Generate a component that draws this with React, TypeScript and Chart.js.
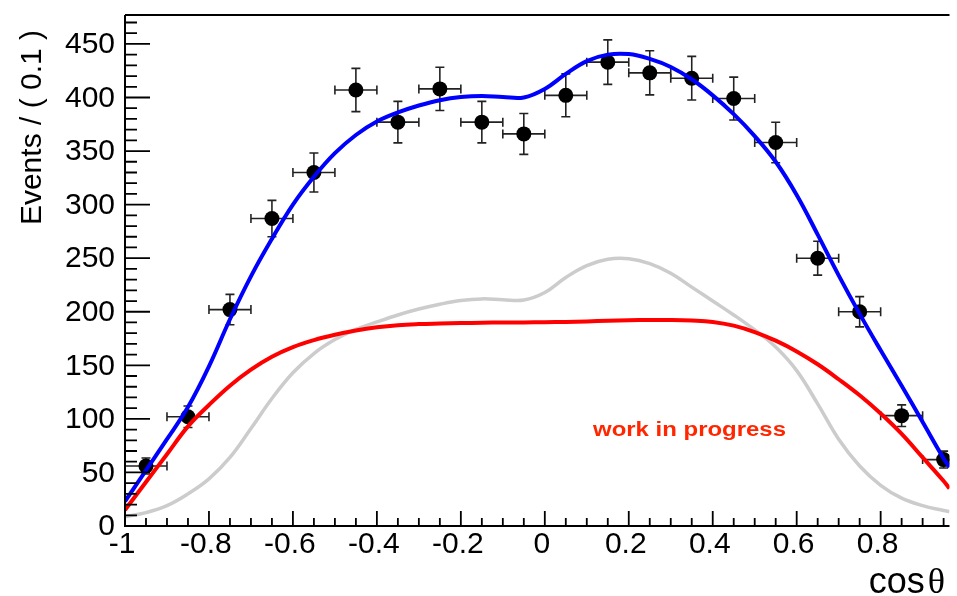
import React, { useEffect, useRef } from "react";
import { Chart, registerables } from "chart.js";

Chart.register(...registerables);

// ---- data ----
const binCenters = [-0.95, -0.85, -0.75, -0.65, -0.55, -0.45, -0.35, -0.25, -0.15, -0.05, 0.05, 0.15, 0.25, 0.35, 0.45, 0.55, 0.65, 0.75, 0.85, 0.95];
const counts = [56, 102, 202, 287, 330, 407, 377, 408, 377, 366, 402, 433, 423, 418, 399, 358, 250, 200, 103, 62];
const countErrors = [7.5, 10, 14.2, 17, 18.2, 20.2, 19.4, 20.2, 19.4, 19.1, 20, 20.8, 20.6, 20.4, 20, 18.9, 15.8, 14.1, 10.1, 7.9];
const binHalfWidth = 0.05;

const curveX = [-1, -0.95, -0.9, -0.85, -0.8, -0.75, -0.7, -0.65, -0.6, -0.55, -0.5, -0.45, -0.4, -0.35, -0.3, -0.25, -0.2, -0.15, -0.1, -0.05, 0, 0.05, 0.1, 0.15, 0.2, 0.25, 0.3, 0.35, 0.4, 0.45, 0.5, 0.55, 0.6, 0.65, 0.7, 0.75, 0.8, 0.85, 0.9, 0.95, 0.964];
const totalFit = [23, 52, 81, 111, 149, 193, 233, 268, 300, 326, 348, 365, 377.5, 386, 392.5, 397.5, 400.5, 401.5, 400.5, 400, 408, 422, 434, 440, 440.5, 436, 428.5, 417, 402, 384.5, 364, 340, 309, 272, 234, 198, 164, 131, 97, 63, 55];
const redComponent = [15, 41, 67, 93, 113, 131, 146, 158, 167, 173.5, 178.5, 182.5, 185.5, 187.5, 188.5, 189, 189.4, 189.7, 190, 190, 190.2, 190.5, 191, 191.5, 192, 192.3, 192.3, 191.8, 190.5, 187, 181, 173, 163, 151, 137, 122, 105, 86, 64, 42, 35];
const grayComponent = [8.7, 12.5, 19, 30, 44, 64, 91, 119, 143, 161, 174, 183.5, 190.5, 197, 202.5, 207, 210.5, 212, 211.3, 211, 218, 232, 243, 249, 249.5, 245, 236, 223, 210, 197, 183, 167, 145, 114, 81, 56, 38, 26, 19, 14.5, 13.4];

const xTickValues = [-1, -0.8, -0.6, -0.4, -0.2, 0, 0.2, 0.4, 0.6, 0.8];
const xTickLabels = ["-1", "-0.8", "-0.6", "-0.4", "-0.2", "0", "0.2", "0.4", "0.6", "0.8"];
const yTickValues = [0, 50, 100, 150, 200, 250, 300, 350, 400, 450];
const yTickLabels = ["0", "50", "100", "150", "200", "250", "300", "350", "400", "450"];

const X_MIN = -1;
const X_MAX = 0.964;
const Y_MIN = 0;
const Y_MAX = 477;

const FONT = "'Liberation Sans', Arial, Helvetica, sans-serif";

const errorBarPlugin = {
  id: "errorBars",
  beforeDatasetsDraw(chart: any) {
    const { ctx, chartArea: a, scales } = chart;
    const x = scales.x;
    const y = scales.y;
    ctx.save();
    ctx.beginPath();
    ctx.rect(a.left, a.top, a.right - a.left, a.bottom - a.top);
    ctx.clip();
    ctx.strokeStyle = "#222";
    ctx.lineWidth = 1.6;
    const cap = 4.5;
    for (let i = 0; i < binCenters.length; i++) {
      const cx = x.getPixelForValue(binCenters[i]);
      const cy = y.getPixelForValue(counts[i]);
      const xl = x.getPixelForValue(binCenters[i] - binHalfWidth);
      const xr = x.getPixelForValue(binCenters[i] + binHalfWidth);
      const yt = y.getPixelForValue(counts[i] + countErrors[i]);
      const yb = y.getPixelForValue(counts[i] - countErrors[i]);
      ctx.beginPath();
      ctx.moveTo(xl, cy); ctx.lineTo(xr, cy);
      ctx.moveTo(xl, cy - cap); ctx.lineTo(xl, cy + cap);
      ctx.moveTo(xr, cy - cap); ctx.lineTo(xr, cy + cap);
      ctx.moveTo(cx, yt); ctx.lineTo(cx, yb);
      ctx.moveTo(cx - cap, yt); ctx.lineTo(cx + cap, yt);
      ctx.moveTo(cx - cap, yb); ctx.lineTo(cx + cap, yb);
      ctx.stroke();
    }
    ctx.restore();
  },
};

const rootAxesPlugin = {
  id: "rootAxes",
  afterDraw(chart: any) {
    const { ctx, chartArea: a, scales } = chart;
    const x = scales.x;
    const y = scales.y;
    ctx.save();
    ctx.strokeStyle = "#000";
    ctx.lineWidth = 2;
    ctx.beginPath();
    ctx.moveTo(a.left, a.top);
    ctx.lineTo(a.left, a.bottom);
    ctx.lineTo(a.right, a.bottom);
    ctx.moveTo(a.left, a.top);
    ctx.lineTo(a.right, a.top);
    ctx.stroke();

    // x ticks (inside)
    ctx.lineWidth = 1.8;
    ctx.beginPath();
    for (let i = -20; i <= 19; i++) {
      const v = i * 0.05;
      if (v > X_MAX) break;
      const px = x.getPixelForValue(v);
      const len = i % 4 === 0 ? 15 : 8;
      ctx.moveTo(px, a.bottom);
      ctx.lineTo(px, a.bottom - len);
    }
    // y ticks (inside)
    for (let v = 0; v <= 470; v += 10) {
      const py = y.getPixelForValue(v);
      const len = v % 50 === 0 ? 25 : 12;
      ctx.moveTo(a.left, py);
      ctx.lineTo(a.left + len, py);
    }
    ctx.stroke();

    ctx.fillStyle = "#000";
    ctx.font = `30px ${FONT}`;
    ctx.textAlign = "center";
    ctx.textBaseline = "middle";
    xTickValues.forEach((v, i) => {
      ctx.fillText(xTickLabels[i], x.getPixelForValue(v) - 3, a.bottom + 19);
    });
    ctx.textAlign = "right";
    yTickValues.forEach((v, i) => {
      ctx.fillText(yTickLabels[i], a.left - 10, y.getPixelForValue(v) + 1);
    });

    // x title
    ctx.textBaseline = "alphabetic";
    ctx.font = `36px 'Liberation Serif', 'DejaVu Serif', serif`;
    ctx.textAlign = "right";
    const thetaW = ctx.measureText("\u03b8").width;
    ctx.fillText("\u03b8", 945, 593);
    ctx.font = `36px ${FONT}`;
    ctx.fillText("cos", 945 - thetaW - 3, 593);

    // y title
    ctx.save();
    ctx.translate(41, 30);
    ctx.rotate(-Math.PI / 2);
    ctx.font = `30px ${FONT}`;
    ctx.textAlign = "right";
    ctx.textBaseline = "alphabetic";
    ctx.fillText("Events / ( 0.1 )", 0, 0);
    ctx.restore();

    // annotation
    ctx.save();
    ctx.font = `bold 20px ${FONT}`;
    ctx.fillStyle = "rgb(255,38,0)";
    ctx.textAlign = "left";
    const label = "work in progress";
    const w = ctx.measureText(label).width;
    ctx.translate(593, 436);
    ctx.scale(193 / w, 1);
    ctx.fillText(label, 0, 0);
    ctx.restore();

    ctx.restore();
  },
};

export default function App() {
  const canvasRef = useRef<HTMLCanvasElement | null>(null);

  useEffect(() => {
    const canvas = canvasRef.current;
    if (!canvas) return;
    const mk = (ys: number[]) => curveX.map((xv, i) => ({ x: xv, y: ys[i] }));
    const curve = (data: number[], color: string, width: number, order: number) => ({
      data: mk(data),
      showLine: true,
      borderColor: color,
      borderWidth: width,
      pointRadius: 0,
      tension: 0.4,
      order,
    });
    const chart = new Chart(canvas, {
      type: "scatter",
      data: {
        datasets: [
          { label: "total", ...curve(totalFit, "#0000ff", 4, 0) },
          { label: "red", ...curve(redComponent, "#ff0000", 4, 1) },
          { label: "gray", ...curve(grayComponent, "#cccccc", 3.5, 2) },
          {
            label: "data",
            data: binCenters.map((xv, i) => ({ x: xv, y: counts[i] })),
            showLine: false,
            pointRadius: 7.5,
            pointBackgroundColor: "#000",
            pointBorderWidth: 0,
            pointBorderColor: "#000",
            order: 3,
          },
        ],
      },
      options: {
        animation: false,
        responsive: false,
        devicePixelRatio: 1,
        layout: { padding: { left: 125, top: 15, right: 0, bottom: 70 } },
        plugins: { legend: { display: false }, tooltip: { enabled: false }, title: { display: false } },
        events: [],
        scales: {
          x: { type: "linear", display: false, min: X_MIN, max: X_MAX },
          y: { type: "linear", display: false, min: Y_MIN, max: Y_MAX },
        },
      },
      plugins: [errorBarPlugin, rootAxesPlugin],
    });
    return () => chart.destroy();
  }, []);

  return (
    <div style={{ position: "absolute", left: 0, top: 0, width: 957, height: 596, background: "#fff" }}>
      <canvas ref={canvasRef} width={957} height={596} style={{ display: "block" }} />
    </div>
  );
}
